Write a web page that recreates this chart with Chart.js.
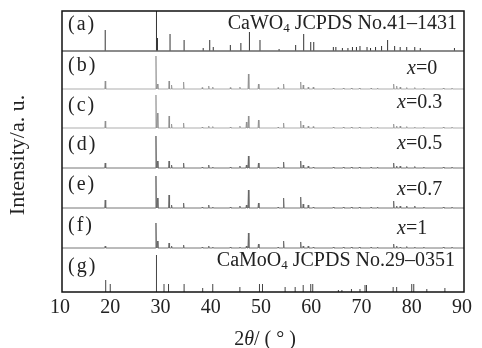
<!DOCTYPE html>
<html>
<head>
<meta charset="utf-8">
<script src="https://cdn.jsdelivr.net/npm/chart.js@4.4.0/dist/chart.umd.min.js"></script>
<style>
  html, body { margin: 0; padding: 0; background: #fff; }
  canvas { display: block; }
</style>
</head>
<body>
<canvas id="xrd" width="482" height="348"></canvas>
<script>
// 2theta ticks
var xTicks = [10, 20, 30, 40, 50, 60, 70, 80, 90]

// (a) CaWO4 JCPDS 41-1431 sticks
var cawo4Pos = [18.6, 28.8, 29.0, 31.5, 34.3, 38.1, 39.4, 40.1, 43.5, 45.6,
                47.3, 49.4, 53.2, 56.5, 58.1, 59.5, 60.1, 64.0, 64.5, 65.8,
                66.9, 67.8, 68.6, 69.3, 70.7, 71.4, 72.4, 73.6, 74.8, 76.2,
                77.3, 78.6, 80.2, 81.3, 88.1]
var cawo4Int = [21, 40, 13, 17, 11, 3, 11, 4, 6, 8,
                19, 11, 2, 6, 17, 9, 9, 4, 4, 3,
                3, 4, 4, 5, 4, 3, 4, 5, 11, 5,
                4, 4, 4, 3, 3]

// (g) CaMoO4 JCPDS 29-0351 sticks
var camoo4Pos = [18.7, 19.6, 28.8, 30.3, 31.2, 34.3, 38.0, 40.0, 45.4, 49.3,
                 49.9, 54.4, 56.4, 58.0, 59.5, 59.9, 65.0, 65.7, 67.6, 69.3,
                 70.3, 70.6, 75.9, 76.6, 79.6, 80.0, 82.6, 86.2]
var camoo4Int = [12, 8, 37, 8, 8, 8, 4, 8, 5, 8,
                 8, 5, 5, 7, 8, 8, 2, 2, 3, 3,
                 7, 7, 5, 5, 8, 8, 3, 4]

// (b)-(f) measured patterns: peak positions and heights
var peakPos = [18.6, 28.7, 29.0, 31.3, 31.8, 34.2, 37.9, 39.2, 40.0, 43.5,
               45.4, 46.7, 47.1, 49.1, 53.0, 54.1, 57.5, 58.0, 59.0, 60.0,
               64.0, 66.0, 67.6, 69.2, 71.5, 72.8, 76.0, 76.6, 77.3, 78.6,
               80.2, 82.0, 85.9, 87.6]
var intX0  = [8, 33, 5, 8, 4, 7, 1.5, 3, 2, 1.5,
              2, 0, 15, 5, 1.5, 5, 7, 4, 2, 2,
              1, 1, 1, 1, 1, 1, 5, 3, 2, 1.5,
              1.5, 1, 1, 1]
var intX03 = [7, 33, 15, 12, 4, 5, 1, 2, 1.5, 1,
              2, 6, 12, 8, 1, 5, 7, 3, 2, 1.5,
              1, 1, 1, 1, 1, 1, 4, 2, 2, 1.5,
              1, 1, 1, 1]
var intX05 = [5, 32, 7, 7, 3, 5, 1, 3, 1, 1,
              2, 3, 12, 5, 1, 6, 7, 3, 2, 1,
              1, 1, 1, 1, 1, 1, 5, 2, 2, 1.5,
              1.5, 1, 1, 1]
var intX07 = [8, 32, 10, 13, 3, 5, 1, 3, 1, 1,
              2, 3, 18, 5, 1, 10, 11, 4, 3, 1,
              1, 1, 1, 1, 1, 1, 7, 2, 2, 2,
              2, 1, 1, 1]
var intX1  = [2, 25, 7, 5, 2, 3, 1, 2, 1, 1,
              1, 2, 15, 4, 1, 7, 6, 2, 2, 1,
              1, 1, 1, 1, 1, 1, 4, 2, 1, 1.5,
              1, 1, 1, 1]

var panelTags = ['a', 'b', 'c', 'd', 'e', 'f', 'g']
var xValues = ['0', '0.3', '0.5', '0.7', '1']

// baseline offset of each panel
var offA = 241, offB = 203, offC = 164, offD = 124, offE = 84, offF = 44, offG = 0

function sticks(pos, hts, y0) {
    var pts = []
    for (var i = 0; i < pos.length; i++) {
        pts.push({x: pos[i], y: y0}, {x: pos[i], y: y0 + hts[i]}, {x: pos[i], y: null})
    }
    return pts
}

function pattern(hts, y0) {
    var w = 0.1
    var pts = [{x: 10, y: y0}]
    for (var i = 0; i < peakPos.length; i++) {
        pts.push({x: peakPos[i] - w, y: y0}, {x: peakPos[i], y: y0 + hts[i]}, {x: peakPos[i] + w, y: y0})
    }
    pts.push({x: 90, y: y0})
    return pts
}

function line(data, color, width) {
    return {data: data, borderColor: color, borderWidth: width, pointRadius: 0, spanGaps: false, tension: 0}
}

var SERIF = '"Liberation Serif", "Times New Roman", serif'

var textPlugin = {
    id: 'texts',
    afterDraw: function(chart) {
        var ctx = chart.ctx
        var a = chart.chartArea
        ctx.save()
        ctx.strokeStyle = '#111'
        ctx.lineWidth = 1.5
        ctx.strokeRect(a.left, a.top, a.right - a.left, a.bottom - a.top)

        ctx.fillStyle = '#222'
        ctx.textBaseline = 'middle'
        ctx.font = '20px ' + SERIF

        // panel tags
        var tagY = [25, 66, 106, 145, 185, 226, 267]
        panelTags.forEach(function(t, i) {
            var x = a.left + 6
            ctx.fillText('(', x, tagY[i])
            x += ctx.measureText('(').width + 2
            ctx.fillText(t, x, tagY[i])
            x += ctx.measureText(t).width + 2
            ctx.fillText(')', x, tagY[i])
        })

        // composition labels
        var valX = [407, 397, 397, 397, 397]
        var valY = [69, 103, 144, 190, 229]
        xValues.forEach(function(v, i) {
            ctx.font = 'italic 20px ' + SERIF
            ctx.fillText('x', valX[i], valY[i])
            var w = ctx.measureText('x').width
            ctx.font = '20px ' + SERIF
            ctx.fillText('=' + v, valX[i] + w, valY[i])
        })

        // card labels
        function card(head, tail, right, y) {
            ctx.font = '20px ' + SERIF
            var w1 = ctx.measureText(head).width
            var w3 = ctx.measureText(tail).width
            ctx.font = '13px ' + SERIF
            var w2 = ctx.measureText('4').width
            var x = right - w1 - w2 - w3
            ctx.font = '20px ' + SERIF
            ctx.fillText(head, x, y)
            ctx.font = '13px ' + SERIF
            ctx.fillText('4', x + w1, y + 5)
            ctx.font = '20px ' + SERIF
            ctx.fillText(tail, x + w1 + w2, y)
        }
        card('CaWO', ' JCPDS No.41\u20131431', 457, 24)
        card('CaMoO', ' JCPDS No.29\u20130351', 455, 261)

        // x title: 2θ/(°)
        var parts = [['2', ''], ['\u03b8', 'italic '], ['/ ( \u00b0 )', '']]
        var tot = 0
        parts.forEach(function(p) { ctx.font = p[1] + '20px ' + SERIF; tot += ctx.measureText(p[0]).width })
        var x = 265 - tot / 2
        parts.forEach(function(p) {
            ctx.font = p[1] + '20px ' + SERIF
            ctx.fillText(p[0], x, 340)
            x += ctx.measureText(p[0]).width
        })

        // y title
        ctx.translate(18, 155)
        ctx.rotate(-Math.PI / 2)
        ctx.textAlign = 'center'
        ctx.font = '22px ' + SERIF
        ctx.fillText('Intensity/a. u.', 0, 0)
        ctx.restore()
    }
}

var chart = new Chart(document.getElementById('xrd'), {
    type: 'line',
    data: {
        datasets: [
            line([{x: 10, y: offA}, {x: 90, y: offA}], '#666', 1.5),
            line(sticks(cawo4Pos, cawo4Int, offA), '#333', 1),
            line(pattern(intX0, offB), '#8a8a8a', 0.7),
            line(pattern(intX03, offC), '#8a8a8a', 0.7),
            line(pattern(intX05, offD), '#666', 0.9),
            line(pattern(intX07, offE), '#666', 0.9),
            line(pattern(intX1, offF), '#666', 0.9),
            line(sticks(camoo4Pos, camoo4Int, offG), '#444', 1)
        ]
    },
    options: {
        responsive: false,
        animation: false,
        layout: {padding: {top: 11, right: 18, left: 0, bottom: 0}},
        plugins: {legend: {display: false}, tooltip: {enabled: false}},
        scales: {
            x: {
                type: 'linear',
                min: 10,
                max: 90,
                afterBuildTicks: function(s) { s.ticks = xTicks.map(function(v) { return {value: v} }) },
                afterFit: function(s) { s.height = 56 },
                grid: {display: false, drawTicks: false},
                border: {display: false},
                ticks: {padding: 4, labelOffset: -2, color: '#222', font: {family: SERIF, size: 20}}
            },
            y: {
                min: 0,
                max: 281,
                afterFit: function(s) { s.width = 62 },
                grid: {display: false},
                border: {display: false},
                ticks: {display: false}
            }
        }
    },
    plugins: [textPlugin]
})
</script>
</body>
</html>
